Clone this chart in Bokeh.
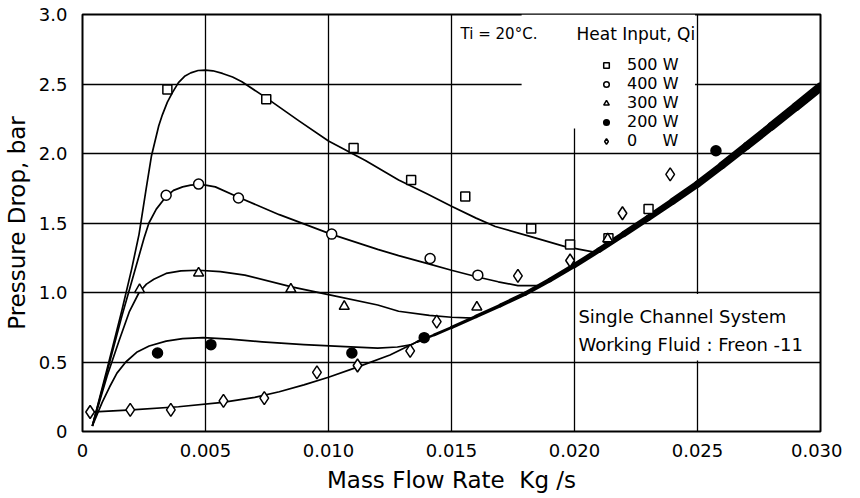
import numpy as np
from bokeh.plotting import figure
from bokeh.models import (FixedTicker, BoxAnnotation, Label, Legend, LegendItem, Range1d)
from bokeh.embed import file_html
from bokeh.resources import INLINE

FONT = "DejaVu Sans"

# ---- axes ----
x_ticks = [0, 0.005, 0.010, 0.015, 0.020, 0.025, 0.030]
x_tick_labels = ["0", "0.005", "0.010", "0.015", "0.020", "0.025", "0.030"]
y_ticks = [0, 0.5, 1.0, 1.5, 2.0, 2.5, 3.0]
y_tick_labels = ["0", "0.5", "1.0", "1.5", "2.0", "2.5", "3.0"]
x_title = "Mass Flow Rate\u00a0\u00a0Kg /s"
y_title = "Pressure Drop, bar"

# ---- measured points (mass flow kg/s, pressure drop bar) ----
q500_x = [0.00345, 0.00747, 0.01102, 0.01336, 0.01556, 0.01824, 0.01982, 0.02138, 0.02301]
q500_y = [2.46, 2.39, 2.04, 1.81, 1.69, 1.46, 1.345, 1.39, 1.60]

q400_x = [0.0034, 0.00472, 0.00634, 0.01013, 0.01413, 0.01607]
q400_y = [1.70, 1.78, 1.68, 1.42, 1.245, 1.125]

q300_x = [0.00232, 0.00472, 0.00847, 0.01064, 0.01603, 0.02135]
q300_y = [1.02, 1.14, 1.025, 0.90, 0.895, 1.385]

q200_x = [0.00305, 0.00522, 0.01095, 0.01389, 0.02575]
q200_y = [0.565, 0.625, 0.565, 0.675, 2.02]

q0_x = [0.00031, 0.00194, 0.00359, 0.00573, 0.00739, 0.00953, 0.01118, 0.01332,
        0.0144, 0.0177, 0.01982, 0.02195, 0.02389]
q0_y = [0.14, 0.155, 0.155, 0.22, 0.24, 0.425, 0.475, 0.58, 0.79, 1.12, 1.23, 1.57, 1.85]

# ---- fitted curves ----
c500_x = [0.0004, 0.0010, 0.0016, 0.0020, 0.0023, 0.0026, 0.0028, 0.0031, 0.00325,
          0.00345, 0.00366, 0.0039, 0.00415, 0.0044, 0.0047, 0.0050, 0.0053, 0.00569,
          0.0061, 0.00648, 0.00747, 0.0088, 0.0100, 0.0115, 0.01285, 0.0140, 0.0150,
          0.0160, 0.01678, 0.01826, 0.01962, 0.0208]
c500_y = [0.04, 0.45, 0.87, 1.17, 1.42, 1.76, 1.98, 2.20, 2.28, 2.37, 2.44, 2.51,
          2.555, 2.58, 2.597, 2.60, 2.595, 2.576, 2.55, 2.516, 2.40, 2.235, 2.09, 1.95,
          1.81, 1.71, 1.62, 1.535, 1.475, 1.40, 1.33, 1.29]

c400_x = [0.0004, 0.0010, 0.0016, 0.0021, 0.0025, 0.0027, 0.0030, 0.0034, 0.0037,
          0.00407, 0.0044, 0.0047, 0.0050, 0.0054, 0.00634, 0.0080, 0.0101, 0.0120,
          0.01285, 0.0140, 0.0150, 0.0161, 0.0169, 0.0177, 0.0185]
c400_y = [0.04, 0.43, 0.83, 1.14, 1.39, 1.50, 1.60, 1.69, 1.735, 1.76, 1.772, 1.776,
          1.773, 1.76, 1.685, 1.56, 1.42, 1.31, 1.265, 1.21, 1.16, 1.11, 1.077, 1.05, 1.05]

c300_x = [0.0004, 0.0010, 0.0015, 0.0019, 0.0023, 0.0026, 0.0029, 0.0034, 0.0040,
          0.0047, 0.0056, 0.0066, 0.0085, 0.0100, 0.0120, 0.01285, 0.0141, 0.0150, 0.0159]
c300_y = [0.04, 0.40, 0.66, 0.86, 1.00, 1.06, 1.095, 1.137, 1.155, 1.16, 1.15, 1.125,
          1.04, 0.985, 0.91, 0.865, 0.835, 0.822, 0.815]

c200_x = [0.0004, 0.0008, 0.0011, 0.0014, 0.00176, 0.0022, 0.00271, 0.0034, 0.00407,
          0.0049, 0.0060, 0.0073, 0.0090, 0.01068, 0.0120, 0.0128, 0.01339, 0.0138]
c200_y = [0.04, 0.21, 0.32, 0.42, 0.50, 0.57, 0.615, 0.65, 0.668, 0.675, 0.665, 0.645,
          0.625, 0.61, 0.60, 0.608, 0.625, 0.665]

c0_x = [0.0003, 0.0020, 0.0039, 0.0057, 0.0070, 0.0080, 0.0090, 0.0100, 0.0112, 0.0125, 0.0136]
c0_y = [0.14, 0.155, 0.178, 0.21, 0.245, 0.286, 0.335, 0.39, 0.465, 0.55, 0.645]

# heavy (single-phase / 0 W) line continuing to the right
heavy_x = [0.0136, 0.0143, 0.0150, 0.0160, 0.0170, 0.0180, 0.0190, 0.0200, 0.0210,
           0.0220, 0.0230, 0.0240, 0.0250, 0.0260, 0.0270, 0.0280, 0.0290, 0.0300]
heavy_y = [0.645, 0.695, 0.748, 0.828, 0.908, 0.992, 1.09, 1.195, 1.305, 1.42, 1.537,
           1.657, 1.78, 1.915, 2.055, 2.195, 2.337, 2.48]

p = figure(frame_width=738, frame_height=417,
           x_range=Range1d(0, 0.030), y_range=Range1d(0, 3.0),
           output_backend="svg", toolbar_location=None,
           min_border_left=82, min_border_right=22, min_border_top=14, min_border_bottom=50,
           background_fill_color="white", border_fill_color="white")

p.outline_line_color = "black"
p.outline_line_width = 2

p.xaxis.ticker = FixedTicker(ticks=x_ticks)
p.yaxis.ticker = FixedTicker(ticks=y_ticks)
p.xaxis.major_label_overrides = dict(zip(x_ticks, x_tick_labels))
p.yaxis.major_label_overrides = dict(zip(y_ticks, y_tick_labels))
for ax in (p.xaxis[0], p.yaxis[0]):
    ax.axis_line_color = None
    ax.major_tick_line_color = None
    ax.minor_tick_line_color = None
    ax.major_label_text_font = FONT
    ax.major_label_text_font_size = "18px"
    ax.major_label_text_color = "black"
    ax.axis_label_text_font = FONT
    ax.axis_label_text_font_size = "23px"
    ax.axis_label_text_font_style = "normal"
    ax.axis_label_text_color = "black"
p.xaxis.axis_label = x_title
p.yaxis.axis_label = y_title
p.xaxis.major_label_standoff = 6
p.yaxis.major_label_standoff = 9
p.xaxis.axis_label_standoff = 7
p.yaxis.axis_label_standoff = 6

for g in (p.xgrid[0], p.ygrid[0]):
    g.grid_line_color = "black"
    g.grid_line_width = 1.3
    g.level = "image"

# blank (white) areas where the grid is interrupted
p.add_layout(BoxAnnotation(left=0.01785, right=0.0249, bottom=2.18, top=3.0,
                           fill_color="white", fill_alpha=1, line_color=None, level="underlay"))
p.add_layout(BoxAnnotation(left=0.0202, right=0.0298, bottom=0.51, top=0.99,
                           fill_color="white", fill_alpha=1, line_color=None, level="underlay"))

# curves
for cx, cy in ((c500_x, c500_y), (c400_x, c400_y), (c300_x, c300_y),
               (c200_x, c200_y), (c0_x, c0_y)):
    p.line(cx, cy, line_color="black", line_width=1.7, line_join="round")

hw = np.linspace(2.4, 9.0, len(heavy_x) - 1)
p.segment(x0=heavy_x[:-1], y0=heavy_y[:-1], x1=heavy_x[1:], y1=heavy_y[1:],
          line_color="black", line_width=hw, line_cap="round")

mk = dict(line_color="black", line_width=1.5)
r500 = p.scatter(q500_x, q500_y, marker="square", size=9, fill_color="white", **mk)
r400 = p.scatter(q400_x, q400_y, marker="circle", size=10, fill_color="white", **mk)
r300 = p.scatter(q300_x, q300_y, marker="triangle", size=10, fill_color="white", **mk)
r200 = p.scatter(q200_x, q200_y, marker="circle", size=10, fill_color="black", **mk)
r0 = p.scatter(q0_x, q0_y, marker="diamond", size=13, fill_color="white", **mk)

legend = Legend(items=[LegendItem(label="500 W", renderers=[r500]),
                       LegendItem(label="400 W", renderers=[r400]),
                       LegendItem(label="300 W", renderers=[r300]),
                       LegendItem(label="200 W", renderers=[r200]),
                       LegendItem(label="0\u00a0\u00a0\u00a0\u00a0\u00a0W", renderers=[r0])],
                location=(517, 281), orientation="vertical",
                border_line_color=None, background_fill_alpha=0,
                padding=0, margin=0, spacing=0, glyph_width=14, glyph_height=14,
                label_height=14, label_standoff=14,
                label_text_font=FONT, label_text_font_size="16px", label_text_color="black")
p.add_layout(legend)

txt = dict(text_font=FONT, text_color="black", text_baseline="middle", text_align="left")
p.add_layout(Label(x=0.01537, y=2.863, text="Ti = 20°C.", text_font_size="15px", **txt))
p.add_layout(Label(x=0.02008, y=2.863, text="Heat Input, Qi", text_font_size="17px", **txt))
p.add_layout(Label(x=0.02016, y=0.827, text="Single Channel System", text_font_size="18px", **txt))
p.add_layout(Label(x=0.02016, y=0.626, text="Working Fluid : Freon -11", text_font_size="18px", **txt))

open("out.html", "w").write(file_html(p, INLINE))
